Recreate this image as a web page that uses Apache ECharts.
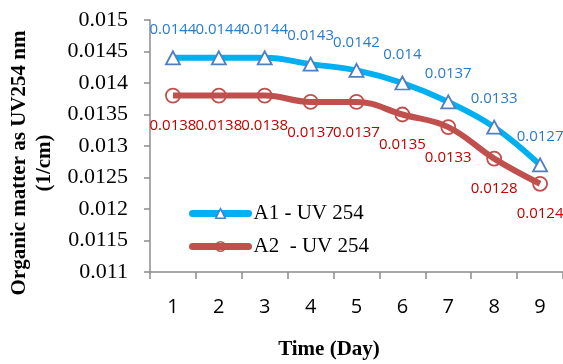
<!DOCTYPE html>
<html>
<head>
<meta charset="utf-8">
<script src="https://cdn.jsdelivr.net/npm/echarts@6/dist/echarts.min.js"></script>
<style>html,body{margin:0;padding:0;background:#fff}#c{width:563px;height:364px}</style>
</head>
<body>
<div id="c"></div>
<script>
var days = ['1','2','3','4','5','6','7','8','9'];
var seriesA1 = [0.0144,0.0144,0.0144,0.0143,0.0142,0.0140,0.0137,0.0133,0.0127];
var seriesA2 = [0.0138,0.0138,0.0138,0.0137,0.0137,0.0135,0.0133,0.0128,0.0124];
var nameA1 = 'A1 - UV 254';
var nameA2 = 'A2  - UV 254';
var yTitle = 'Organic matter as UV254 nm\n(1/cm)';
var xTitle = 'Time (Day)';

var chart = echarts.init(document.getElementById('c'), null, {renderer:'canvas'});
var axisGray = '#8c8c8c';
chart.setOption({
  animation:false,
  grid:{left:150,right:0,top:20,bottom:92},
  legend:{
    orient:'vertical', left:184, top:198, itemWidth:56, itemHeight:12, itemGap:12,
    textStyle:{fontFamily:'Liberation Serif', fontSize:21, color:'#000'},
    data:[
      {name:nameA1, lineStyle:{color:'#00B0F0', width:7, cap:'round'},
        itemStyle:{color:'#ffffff', borderColor:'#4F7EC2', borderWidth:1.5}},
      {name:nameA2, lineStyle:{color:'#C0504D', width:7, cap:'round'},
        itemStyle:{color:'rgba(0,0,0,0)', borderColor:'#C0504D', borderWidth:1.5}}
    ]
  },
  xAxis:{
    type:'category', data:days, boundaryGap:true,
    axisLine:{lineStyle:{color:axisGray,width:1.5}},
    axisTick:{show:true,length:7,lineStyle:{color:axisGray,width:1.5}},
    axisLabel:{fontFamily:'Open Sans', fontSize:20, color:'#000', margin:25},
    splitLine:{show:false}
  },
  yAxis:{
    type:'value', min:0.011, max:0.015, interval:0.0005,
    axisLine:{show:true,lineStyle:{color:axisGray,width:1.5}},
    axisTick:{show:true,length:6,lineStyle:{color:axisGray,width:1.5}},
    axisLabel:{fontFamily:'Liberation Serif', fontSize:22, color:'#000', margin:22,
      formatter:function(v){return String(parseFloat(v.toFixed(5)));}},
    splitLine:{show:false}
  },
  graphic:[
    {type:'text', x:32, y:163, rotation:Math.PI/2,
      style:{text:yTitle, fontFamily:'Liberation Serif', fontWeight:'bold', fontSize:21, lineHeight:25,
        fill:'#000', align:'center', verticalAlign:'middle'}},
    {type:'text', x:329, y:350,
      style:{text:xTitle, fontFamily:'Liberation Serif', fontWeight:'bold', fontSize:21,
        fill:'#000', align:'center', verticalAlign:'middle'}}
  ],
  series:[
    {name:nameA1, type:'line', data:seriesA1, smooth:0.4,
      symbol:'triangle', symbolSize:[14,13],
      lineStyle:{color:'#00B0F0', width:6},
      itemStyle:{color:'#ffffff', borderColor:'#4F7EC2', borderWidth:1.8},
      label:{show:true, position:'top', distance:13, fontFamily:'Open Sans', fontSize:15, color:'#2B7BC8'},
      labelLayout:{hideOverlap:false}, z:3},
    {name:nameA2, type:'line', data:seriesA2, smooth:0.4,
      symbol:'circle', symbolSize:14,
      lineStyle:{color:'#C0504D', width:6},
      itemStyle:{color:'rgba(0,0,0,0)', borderColor:'#C0504D', borderWidth:1.8},
      label:{show:true, position:'bottom', distance:15, fontFamily:'Open Sans', fontSize:15, color:'#C00000'},
      labelLayout:{hideOverlap:false}, z:2}
  ]
});
</script>
</body>
</html>
